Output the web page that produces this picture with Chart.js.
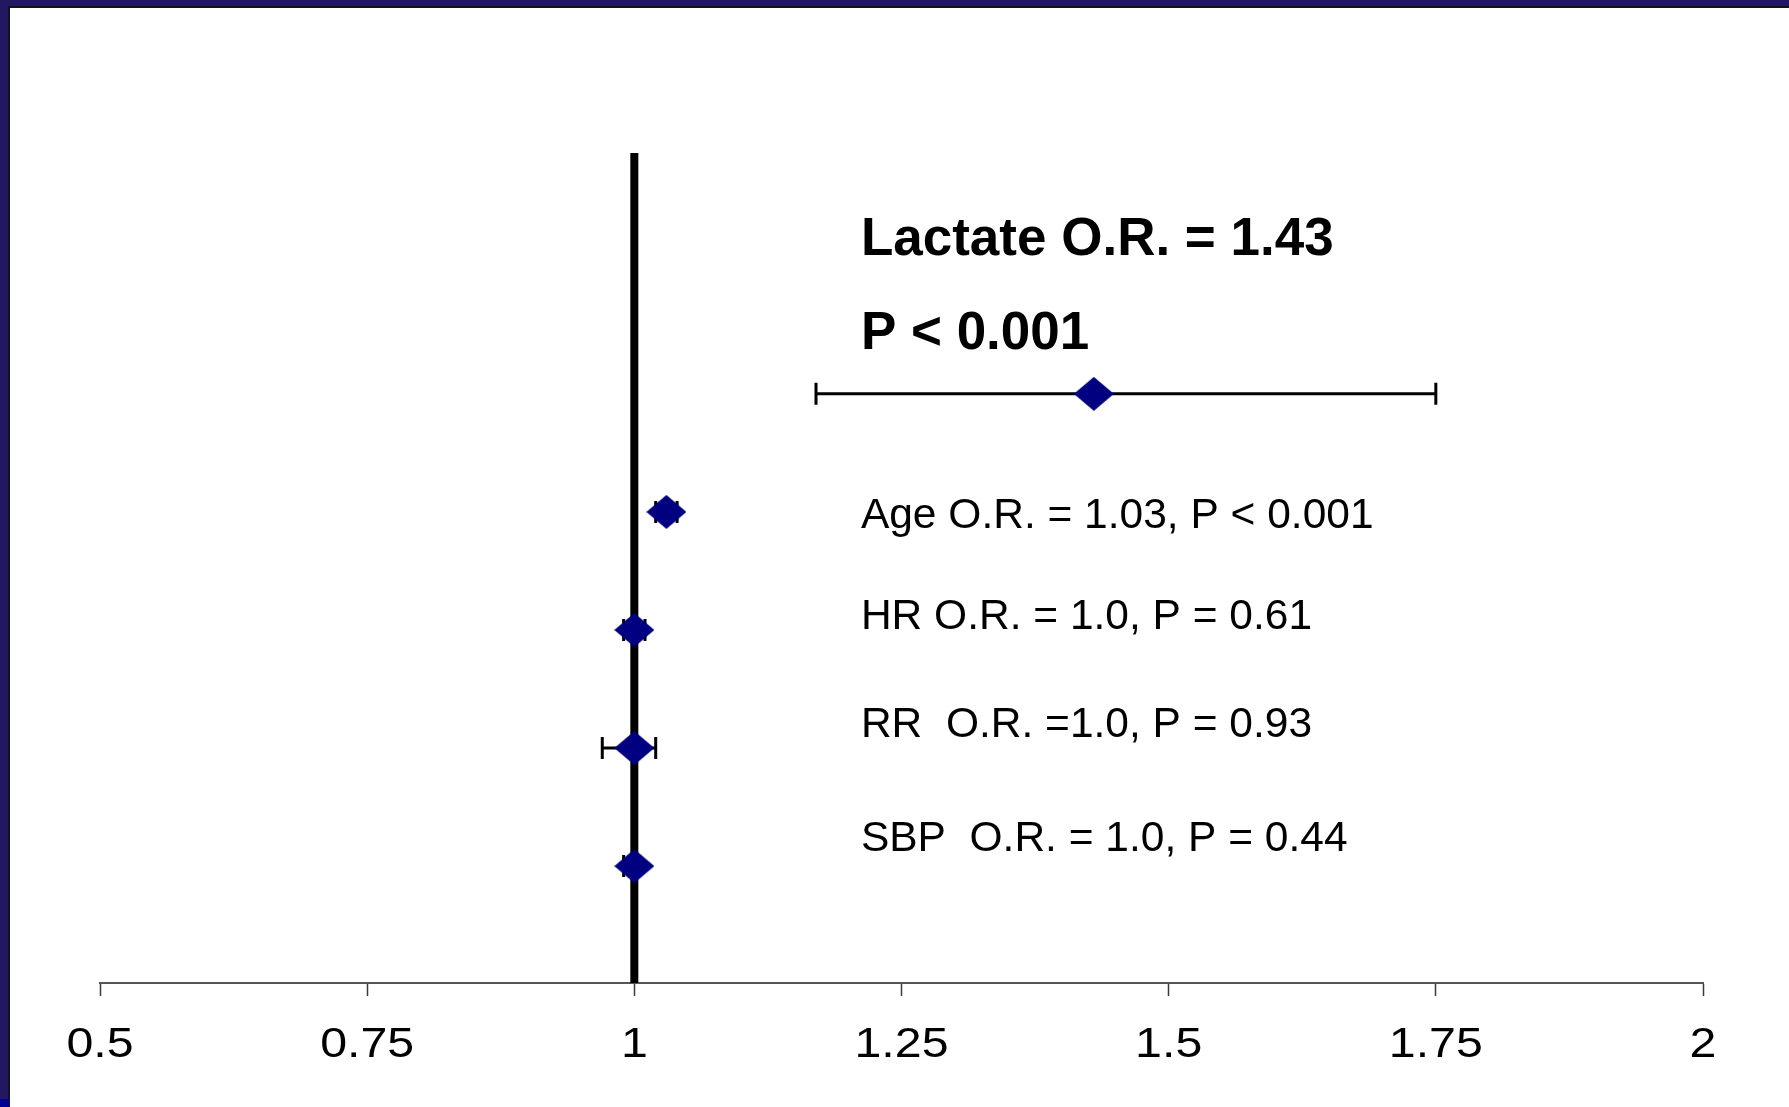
<!DOCTYPE html>
<html>
<head>
<meta charset="utf-8">
<script src="https://cdn.jsdelivr.net/npm/chart.js@4/dist/chart.umd.min.js"></script>
<style>
  html, body { margin: 0; padding: 0; background: #ffffff; overflow: hidden; }
  #wrap { width: 1789px; height: 1107px; position: relative; }
  canvas { display: block; }
</style>
</head>
<body>
<div id="wrap"><canvas id="forest" width="1789" height="1107"></canvas></div>
<script>
// Multivariable model: odds ratios with 95% confidence intervals
const variables = ['Lactate', 'Age', 'HR', 'RR', 'SBP'];
const oddsRatio = [1.43, 1.03, 1.0, 1.0, 1.0];
const ciLower   = [1.17, 1.02, 0.99, 0.97, 0.99];
const ciUpper   = [1.75, 1.04, 1.01, 1.02, 1.005];
const xTicks    = [0.5, 0.75, 1, 1.25, 1.5, 1.75, 2];
const referenceOR = 1;

const headlineText = ['Lactate O.R. = 1.43', 'P < 0.001'];
const rowText = [
  'Age O.R. = 1.03, P < 0.001',
  'HR O.R. = 1.0, P = 0.61',
  'RR  O.R. =1.0, P = 0.93',
  'SBP  O.R. = 1.0, P = 0.44'
];

const NAVY = 'rgb(0,0,128)';
const FONT = '"Liberation Sans", Arial, Helvetica, sans-serif';

// Row index used as the (hidden) vertical coordinate, 0 = top row
const Y_MIN = -2.04, Y_MAX = 4.99;

// Diamond marker, a little wider than tall
function makeDiamond(w, h, color) {
  const c = document.createElement('canvas');
  c.width = w; c.height = h;
  const g = c.getContext('2d');
  g.fillStyle = color;
  g.beginPath();
  g.moveTo(w / 2, 0);
  g.lineTo(w, h / 2);
  g.lineTo(w / 2, h);
  g.lineTo(0, h / 2);
  g.closePath();
  g.fill();
  return c;
}
const diamond = makeDiamond(40, 34, NAVY);

const points = variables.map((v, i) => ({ x: oddsRatio[i], y: i }));

// Slide frame: navy bars on top and left edges
const framePlugin = {
  id: 'frame',
  beforeDraw(chart) {
    const { ctx, width, height } = chart;
    ctx.save();
    ctx.fillStyle = '#ffffff';
    ctx.fillRect(0, 0, width, height);
    ctx.fillStyle = 'rgb(33,24,96)';
    ctx.fillRect(0, 0, width, 6);
    ctx.fillRect(0, 0, 8, height);
    ctx.fillStyle = '#111122';
    ctx.fillRect(8, 6, width - 8, 2);
    ctx.fillRect(8, 6, 2, height - 6);
    ctx.fillStyle = 'rgb(0,0,150)';
    ctx.fillRect(0, 1099, 9, height - 1099);
    ctx.restore();
  }
};

// Confidence-interval whiskers with end caps
const ciPlugin = {
  id: 'ciBars',
  beforeDatasetsDraw(chart) {
    const { ctx, scales: { x, y } } = chart;
    ctx.save();
    ctx.strokeStyle = '#000000';
    ctx.lineCap = 'butt';
    ctx.lineWidth = 3;
    variables.forEach((v, i) => {
      const x0 = x.getPixelForValue(ciLower[i]);
      const x1 = x.getPixelForValue(ciUpper[i]);
      const yc = y.getPixelForValue(i);
      const cap = 11;
      ctx.beginPath();
      ctx.moveTo(x0, yc); ctx.lineTo(x1, yc);
      ctx.moveTo(x0, yc - cap); ctx.lineTo(x0, yc + cap);
      ctx.moveTo(x1, yc - cap); ctx.lineTo(x1, yc + cap);
      ctx.stroke();
    });
    ctx.restore();
  }
};

// Odds-ratio statements beside the markers
const textPlugin = {
  id: 'orText',
  afterDatasetsDraw(chart) {
    const { ctx, scales: { x, y } } = chart;
    const tx = x.getPixelForValue(1.212);
    ctx.save();
    ctx.fillStyle = '#000000';
    ctx.textAlign = 'left';
    ctx.textBaseline = 'middle';
    ctx.font = 'bold 53px ' + FONT;
    ctx.fillText(headlineText[0], tx, y.getPixelForValue(-1.30));
    ctx.fillText(headlineText[1], tx, y.getPixelForValue(-0.50));
    ctx.font = '42.5px ' + FONT;
    const rowPos = [1.04, 1.895, 2.81, 3.77];
    rowText.forEach((t, i) => ctx.fillText(t, tx, y.getPixelForValue(rowPos[i])));
    ctx.restore();
  }
};

// Axis numbers in a slightly wide face, placed at the x scale's ticks
const tickLabelPlugin = {
  id: 'wideTicks',
  afterDraw(chart) {
    const { ctx, scales: { x } } = chart;
    ctx.save();
    ctx.fillStyle = '#000000';
    ctx.font = '42px ' + FONT;
    ctx.textAlign = 'center';
    ctx.textBaseline = 'alphabetic';
    const base = x.bottom + 60.5;
    x.ticks.forEach(t => {
      ctx.save();
      ctx.translate(x.getPixelForValue(t.value), base);
      ctx.scale(1.15, 1);
      ctx.fillText(String(t.value), 0, 0);
      ctx.restore();
    });
    ctx.restore();
  }
};

new Chart(document.getElementById('forest'), {
  type: 'scatter',
  data: {
    datasets: [
      {
        label: 'Odds ratio',
        data: points,
        pointStyle: diamond,
        pointRadius: 20,
        pointHoverRadius: 20,
        order: 0,
        clip: false
      },
      {
        type: 'line',
        label: 'No effect',
        data: [{ x: referenceOR, y: Y_MIN }, { x: referenceOR, y: Y_MAX }],
        borderColor: '#000000',
        borderWidth: 8,
        borderCapStyle: 'butt',
        pointRadius: 0,
        fill: false,
        order: 1,
        clip: false
      }
    ]
  },
  plugins: [framePlugin, ciPlugin, textPlugin, tickLabelPlugin],
  options: {
    responsive: false,
    animation: false,
    devicePixelRatio: 1,
    layout: { padding: { left: 100, right: 86, top: 153, bottom: 111 } },
    plugins: { legend: { display: false }, tooltip: { enabled: false } },
    scales: {
      x: {
        type: 'linear',
        min: 0.5,
        max: 2,
        afterBuildTicks(scale) { scale.ticks = xTicks.map(v => ({ value: v })); },
        ticks: { display: false, autoSkip: false },
        grid: {
          display: true,
          drawOnChartArea: false,
          drawTicks: true,
          tickLength: 13,
          tickWidth: 1.5,
          tickColor: '#3a3a3a'
        },
        border: { display: true, color: '#555555', width: 2 }
      },
      y: {
        type: 'linear',
        display: false,
        reverse: true,
        min: Y_MIN,
        max: Y_MAX
      }
    }
  }
});
</script>
</body>
</html>
